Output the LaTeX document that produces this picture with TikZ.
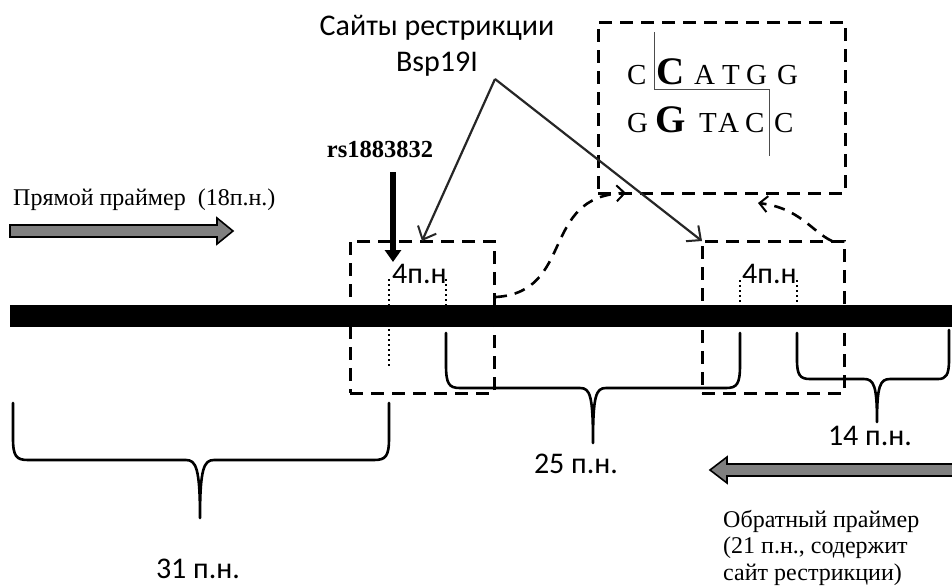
\documentclass[tikz,border=0pt]{standalone}
\usepackage{fontspec}
\setmainfont{Liberation Serif}
\newfontfamily\labelsans{Carlito}
\usetikzlibrary{arrows.meta}

\begin{document}
\begin{tikzpicture}[x=1pt,y=-1pt,
  dashbox/.style={draw, line width=3pt, dash pattern=on 13pt off 8pt,
    inner sep=0pt, outer sep=0pt},
  dotline/.style={line width=2.2pt, dash pattern=on 2pt off 3pt},
  brace/.style={line width=2.6pt, line join=round, line cap=round},
  pointer/.style={line width=2.2pt, draw=black!85,
    -{Straight Barb[length=11pt,width=20pt,line width=2pt]}},
  loopline/.style={line width=2.6pt, dash pattern=on 11pt off 8pt,
    -{Straight Barb[length=8pt,width=16pt,line width=2pt]}},
  snp/.style={line width=6pt, -{Triangle[length=12pt,width=16pt]}},
  primer/.style={draw=black, line width=1.6pt, fill=black!50, line join=miter},
  sans/.style={font=\labelsans\fontsize{30}{36}\selectfont, inner sep=0pt},
  serif/.style={font=\fontsize{24}{26.5}\selectfont, inner sep=0pt},
  base/.style={font=\fontsize{29}{30}\selectfont, inner sep=0pt, anchor=base west},
  bigbase/.style={font=\bfseries\fontsize{39}{40}\selectfont, inner sep=0pt, anchor=base west}
]
\clip (0,0) rectangle (952,587);
\fill[white] (0,0) rectangle (952,587);

% DNA strand
\fill (10,305) rectangle (960,327);

% framed regions
\node[dashbox, minimum width=144pt, minimum height=152pt] (boxL) at (422,317) {};
\node[dashbox, minimum width=142pt, minimum height=152pt] (boxR) at (773,317) {};
\node[dashbox, minimum width=247pt, minimum height=171pt] (boxT) at (721.5,107.5) {};

% 4-bp site markers
\draw[dotline] (389,279) -- (389,366);
\draw[dotline] (446,279) -- (446,306);
\draw[dotline] (740,280) -- (740,306);
\draw[dotline] (797,280) -- (797,306);
\node[sans, anchor=west] (siteL) at (392,274) {4п.н};
\node[sans, anchor=west] (siteR) at (742,274) {4п.н};

% braces
\draw[brace] (13,403) -- (13,438) .. controls (13,456) and (16,460) .. (28,460)
  -- (186,460) .. controls (196,460) and (200,468) .. (200,518)
  .. controls (200,468) and (204,460) .. (214,460)
  -- (374,460) .. controls (386,460) and (389,456) .. (389,438) -- (389,403);
\draw[brace] (446,333) -- (446,365) .. controls (446,384) and (449,388) .. (460,388)
  -- (580,388) .. controls (590,388) and (593,395) .. (593,443)
  .. controls (593,395) and (596,388) .. (606,388)
  -- (726,388) .. controls (737,388) and (740,384) .. (740,365) -- (740,333);
\draw[brace] (797,333) -- (797,360) .. controls (797,375) and (800,379) .. (810,379)
  -- (864,379) .. controls (874,379) and (877,386) .. (877,422)
  .. controls (877,386) and (880,379) .. (890,379)
  -- (938,379) .. controls (946,379) and (949,375) .. (949,360) -- (949,330);
\node[sans] (len31) at (198,569) {31 п.н.};
\node[sans] (len25) at (576,464) {25 п.н.};
\node[sans] (len14) at (870,436) {14 п.н.};

% primers
\draw[primer] (10,225) -- (217,225) -- (217,218) -- (233,231) -- (217,244)
  -- (217,237) -- (10,237) -- cycle;
\node[serif, anchor=base west] (fwd) at (13,205) {Прямой праймер\ \ (18п.н.)};
\draw[primer] (960,464) -- (727,464) -- (727,457) -- (710,470) -- (727,483)
  -- (727,476) -- (960,476) -- cycle;
\node[serif, anchor=base west, align=left] (rev) at (723,580)
  {Обратный праймер\\(21 п.н., содержит\\сайт рестрикции)};

% SNP pointer
\node[font=\bfseries\fontsize{24.5}{26}\selectfont, inner sep=0pt] (rs) at (380,149) {rs1883832};
\coordinate (snpTop) at (393,172);
\coordinate (snpTip) at (393,262);
\draw[snp] (snpTop) -- (snpTip);

% restriction site pointers
\node[sans, align=center, font=\labelsans\fontsize{30}{36}\selectfont] (sites) at (437,46)
  {Сайты рестрикции\\Bsp19I};
\coordinate (apex) at (495,79);
\draw[pointer] (apex) -- (boxL.north);
\draw[pointer] (apex) -- (boxR.north west);

% recognition sequence
\node[base] (s1) at (627,84) {C};
\node[bigbase] (s2) at (656,84) {C};
\node[base] (s3) at (694,84) {A};
\node[base] (s4) at (722,84) {T};
\node[base] (s5) at (746,84) {G};
\node[base] (s6) at (777,84) {G};
\node[base] (t1) at (627,132) {G};
\node[bigbase] (t2) at (655,132) {G};
\node[base] (t3) at (699,132) {T};
\node[base] (t4) at (718,132) {A};
\node[base] (t5) at (745,132) {C};
\node[base] (t6) at (774,132) {C};
\draw[line width=1pt, black!70] (654,32) -- (654,89) -- (769,89) -- (769,156);

% links from sites to the sequence
\coordinate (linkA) at (496,297);
\coordinate (linkB) at (626,193);
\draw[loopline] (linkA) .. controls (575,292) and (540,196) .. (linkB);
\coordinate (linkC) at (832,241);
\coordinate (linkD) at (758,203);
\draw[loopline] (linkC) .. controls (812,232) and (800,208) .. (linkD);
\end{tikzpicture}
\end{document}
